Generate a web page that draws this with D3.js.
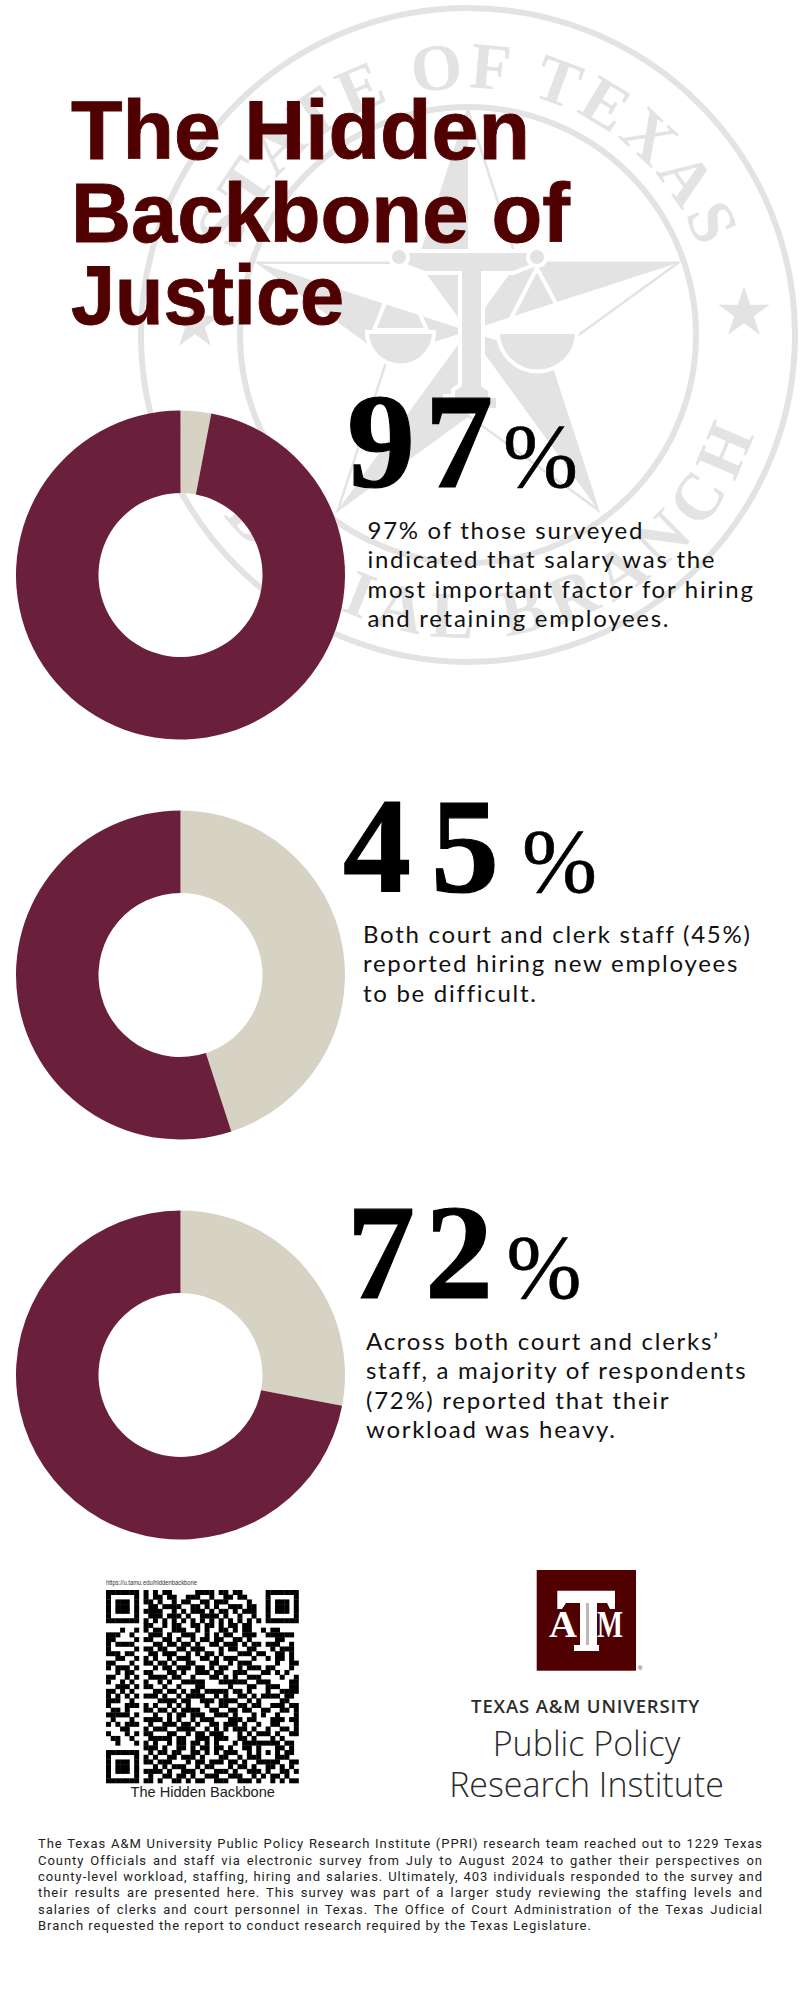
<!DOCTYPE html>
<html>
<head>
<meta charset="utf-8">
<script src="https://cdn.jsdelivr.net/npm/d3@7"></script>
<style>
  html, body { margin: 0; padding: 0; background: #fff; }
  svg { display: block; }
</style>
</head>
<body>
<div id="chart"></div>
<script>
////////// Data
var titleLines = ["The Hidden", "Backbone of", "Justice"];
var percentLabels = ["97", "45", "72"];
var donutMaroon = [97, 55, 72];
var donutBeige = [3, 45, 28];
var statTexts = [
  ["97% of those surveyed", "indicated that salary was the", "most important factor for hiring", "and retaining employees."],
  ["Both court and clerk staff (45%)", "reported hiring new employees", "to be difficult."],
  ["Across both court and clerks’", "staff, a majority of respondents", "(72%) reported that their", "workload was heavy."]
];
var footerLines = [
  "The Texas A&M University Public Policy Research Institute (PPRI) research team reached out to 1229 Texas",
  "County Officials and staff via electronic survey from July to August 2024 to gather their perspectives on",
  "county-level workload, staffing, hiring and salaries. Ultimately, 403 individuals responded to the survey and",
  "their results are presented here. This survey was part of a larger study reviewing the staffing levels and",
  "salaries of clerks and court personnel in Texas. The Office of Court Administration of the Texas Judicial",
  "Branch requested the report to conduct research required by the Texas Legislature."
];
var qrRows = [
  "11111110101011000001111011011000001111111",
  "10000010101101100111001001101100001000001",
  "10111010110100101100110111000010001011101",
  "10111010011011110011010100111011001011101",
  "10111010111100101011101011010111001011101",
  "10000010011101110100111101001001001000001",
  "11111110101010101010101010101010101111111",
  "00000000110010110011011010110110000000000",
  "00010010101100111001010011010110010110000",
  "11100100011101001110010101100111001111110",
  "11000010110011010010110110011010000011000",
  "10111100001101101101001101110101101110010",
  "10000010110110011011100010110011000101110",
  "11101100011011100101011010001110110011010",
  "00110010101001011100110101110001001011010",
  "11000100110110100110001100101110000010011",
  "10111010001011011101101011001011101100010",
  "00101100110001101001110110011100011010100",
  "11001010011110110010001101010011100001001",
  "10010100100101001111100011111100111000011",
  "00111010110010010001100000100011001110011",
  "11010100001101101011011111011010001001111",
  "10101010111010010111100101001101011110110",
  "11100100000111101100111011110010100001100",
  "10001110101001010100010011001101100111011",
  "01101000110110101111001100110110011001101",
  "11111010001001011011100111010001010010001",
  "01000100111101010010111000111011000111011",
  "10101110010011101101001101110100100110001",
  "00011000101110011110010101011101001001101",
  "10001010110001100101101110001010111010011",
  "01100100011111011001110111001101000101000",
  "00100010101001011011010100010111111110110",
  "00000000111010011010110110100110100011010",
  "11111110010110110011010101110010101010110",
  "10000010101001101110100011001011100011100",
  "10111010110111000101101110110100111110011",
  "10111010001010111001011000101101001101010",
  "10111010111101001110100111010011101001101",
  "10000010010011011010011100111001010110100",
  "11111110110100110101100111001110100101011"
];

////////// Layout
var width = 800, height = 2000;
var maroon = "#6a1f3a", beige = "#d6d3c4", titleColor = "#500000", sealGray = "#e3e3e3";
var donutCx = 180.5, donutCy = [575, 975, 1375], donutR = 164.5, donutHole = 82;
var numX = [347, 343, 347], numBase = [487, 892, 1298], numSpacing = [10, 20, 10];
var pctX = [503, 522, 506.5];
var textX = [367.5, 363, 366], textBase = [539, 943, 1350];
var titleBase = [158.5, 242, 323.5], titleWidth = [459, 499, 273];

var svg = d3.select("#chart").append("svg")
  .attr("width", width)
  .attr("height", height)
  .attr("viewBox", "0 0 " + width + " " + height);

svg.append("rect").attr("width", width).attr("height", height).attr("fill", "#fff");

////////// Seal in the background
function starPoints(cx, cy, R) {
  var r = R * 0.382, pts = [];
  for (var i = 0; i < 10; i++) {
    var a = -Math.PI / 2 + i * Math.PI / 5, d = i % 2 ? r : R;
    pts.push([cx + d * Math.cos(a), cy + d * Math.sin(a)]);
  }
  return pts;
}

function drawSeal() {
  var cx = 468, cy = 335;
  var g = svg.append("g").attr("class", "seal");
  g.append("circle").attr("cx", cx).attr("cy", cy).attr("r", 327)
    .attr("fill", "none").attr("stroke", sealGray).attr("stroke-width", 6);
  g.append("circle").attr("cx", cx).attr("cy", cy).attr("r", 228)
    .attr("fill", "none").attr("stroke", sealGray).attr("stroke-width", 6);

  // text on the ring
  var top = d3.path();
  top.arc(cx, cy, 247, -Math.PI * 0.95, -Math.PI * 0.05, false);
  var bottom = d3.path();
  bottom.arc(cx, cy, 303, Math.PI * 0.95, Math.PI * 0.05, true);
  g.append("path").attr("id", "sealTop").attr("d", top.toString()).attr("fill", "none");
  g.append("path").attr("id", "sealBottom").attr("d", bottom.toString()).attr("fill", "none");
  g.append("text").attr("font-family", "Liberation Serif").attr("font-weight", 700).attr("font-size", 66).attr("fill", sealGray)
    .attr("letter-spacing", 4.2).attr("text-anchor", "middle")
    .append("textPath").attr("href", "#sealTop").attr("startOffset", "50%").text("STATE OF TEXAS");
  g.append("text").attr("font-family", "Liberation Serif").attr("font-weight", 700).attr("font-size", 66).attr("fill", sealGray)
    .attr("letter-spacing", 10).attr("text-anchor", "middle")
    .append("textPath").attr("href", "#sealBottom").attr("startOffset", "50%").text("JUDICIAL BRANCH");

  // small stars left and right
  [[195, 324], [744, 313]].forEach(function(c) {
    g.append("polygon").attr("points", starPoints(c[0], c[1], 27).join(" ")).attr("fill", sealGray);
  });

  // big star: outline + one filled half on each point
  var pts = starPoints(cx, 331, 221);
  g.append("polygon").attr("points", pts.join(" "))
    .attr("fill", "none").attr("stroke", sealGray).attr("stroke-width", 2.5);
  for (var i = 0; i < 10; i += 2) {
    var prev = pts[(i + 9) % 10];
    g.append("polygon").attr("points", [[cx, 331], prev, pts[i]].join(" ")).attr("fill", sealGray);
  }

  // scales
  var sc = g.append("g").attr("fill", sealGray).attr("stroke", "#fff").attr("stroke-width", 4);
  sc.append("path").attr("d", "M460 273L425 273L399 263L399 251L539 251L539 263L513 273L483 273L483 385L490 390L490 396L498 396L498 410L445 410L445 396L453 396L453 390L460 385Z");
  [[399, 374, 427], [537, 505, 570]].forEach(function(p) {
    sc.append("path").attr("fill", "none").attr("d", "M" + p[0] + " 268L" + p[1] + " 330L" + p[2] + " 330Z");
    var R = (p[2] - p[1]) / 2 + 7, mid = (p[2] + p[1]) / 2;
    sc.append("path").attr("d", "M" + (mid - R) + " 332A" + R + " " + R + " 0 0 0 " + (mid + R) + " 332Z");
    sc.append("circle").attr("cx", p[0]).attr("cy", 257).attr("r", 9);
  });
}
drawSeal();

////////// Title
svg.append("g").selectAll("text").data(titleLines).enter().append("text")
  .attr("x", 71)
  .attr("y", function(d, i) { return titleBase[i]; })
  .attr("font-family", "Liberation Sans")
  .attr("font-weight", 700)
  .attr("font-size", 84)
  .attr("fill", titleColor)
  .attr("stroke", titleColor)
  .attr("stroke-width", 0.9)
  .attr("textLength", function(d, i) { return titleWidth[i]; })
  .attr("lengthAdjust", "spacingAndGlyphs")
  .text(function(d) { return d; });

////////// Donuts
var pie = d3.pie().sort(null).value(function(d) { return d; });
var arc = d3.arc().innerRadius(donutHole).outerRadius(donutR);
var sliceColor = d3.scaleOrdinal().domain([0, 1]).range([beige, maroon]);

donutCy.forEach(function(cy, k) {
  var g = svg.append("g").attr("class", "donut").attr("transform", "translate(" + donutCx + "," + cy + ")");
  g.selectAll("path").data(pie([donutBeige[k], donutMaroon[k]])).enter().append("path")
    .attr("d", arc)
    .attr("fill", function(d, i) { return sliceColor(i); });

  // big number
  svg.append("text")
    .attr("x", numX[k]).attr("y", numBase[k])
    .attr("font-family", "Liberation Serif").attr("font-weight", 700).attr("font-size", 136)
    .attr("letter-spacing", numSpacing[k])
    .attr("fill", "#000").attr("stroke", "#000").attr("stroke-width", 1.2)
    .text(percentLabels[k]);
  svg.append("text")
    .attr("x", pctX[k]).attr("y", numBase[k])
    .attr("font-family", "Liberation Serif").attr("font-size", 90)
    .attr("fill", "#000").attr("stroke", "#000").attr("stroke-width", 0.6)
    .text("%");

  // description
  svg.append("g").selectAll("text").data(statTexts[k]).enter().append("text")
    .attr("x", textX[k])
    .attr("y", function(d, i) { return textBase[k] + i * 29.3; })
    .attr("font-family", "Lato").attr("font-size", 24).attr("letter-spacing", 1.72).attr("fill", "#111")
    .text(function(d) { return d; });
});

////////// QR code
var qrN = qrRows.length;
var qrX = d3.scaleBand().domain(d3.range(qrN)).range([106, 298.5]);
var qrY = d3.scaleBand().domain(d3.range(qrN)).range([1590, 1783]);
var qr = svg.append("g").attr("class", "qr");
qrRows.forEach(function(row, r) {
  row.split("").forEach(function(v, c) {
    if (v === "1") {
      qr.append("rect").attr("x", qrX(c)).attr("y", qrY(r))
        .attr("width", qrX.bandwidth() + 0.3).attr("height", qrY.bandwidth() + 0.3).attr("fill", "#000");
    }
  });
});
svg.append("text").attr("x", 106).attr("y", 1585).attr("font-family", "Liberation Sans").attr("font-size", 6.8).attr("fill", "#333")
  .attr("textLength", 91).attr("lengthAdjust", "spacingAndGlyphs")
  .text("https://u.tamu.edu/hiddenbackbone");
svg.append("text").attr("x", 130.5).attr("y", 1797).attr("font-family", "Liberation Sans").attr("font-size", 14.6).attr("fill", "#222")
  .text("The Hidden Backbone");

////////// Logo
var logo = svg.append("g").attr("class", "logo");
logo.append("rect").attr("x", 536.7).attr("y", 1570).attr("width", 99.3).attr("height", 100.7).attr("fill", titleColor);
logo.append("path").attr("fill", "#fff").attr("d", "M557.3 1590.7L615 1590.7L615 1609L610 1609L607 1603L597 1603L597 1645L599 1645L599 1651L574 1651L574 1645L580 1645L580 1603L566 1603L562 1609L557.3 1609Z");
logo.append("path").attr("fill", "#b9b9b9").attr("d", "M586 1603L589 1603L589 1645L586 1645Z");
logo.append("text").attr("x", 549).attr("y", 1636.7).attr("font-family", "Liberation Serif").attr("font-weight", 700)
  .attr("font-size", 38).attr("fill", "#fff").attr("textLength", 28).attr("lengthAdjust", "spacingAndGlyphs").text("A");
logo.append("text").attr("x", 597).attr("y", 1636.7).attr("font-family", "Liberation Serif").attr("font-weight", 700)
  .attr("font-size", 38).attr("fill", "#fff").attr("textLength", 26).attr("lengthAdjust", "spacingAndGlyphs").text("M");
logo.append("text").attr("x", 638).attr("y", 1670).attr("font-family", "Liberation Sans").attr("font-size", 6).attr("fill", titleColor).text("®");

var logoText = svg.append("g").attr("text-anchor", "middle").attr("font-family", "Open Sans").attr("fill", "#2b2b2b");
logoText.append("text").attr("x", 585.6).attr("y", 1713).attr("font-size", 18.5).attr("font-weight", 600).attr("letter-spacing", 0.85).text("TEXAS A&M UNIVERSITY");
logoText.append("text").attr("x", 586.5).attr("y", 1755.5).attr("font-size", 34).attr("font-weight", 300).text("Public Policy");
logoText.append("text").attr("x", 586.5).attr("y", 1797).attr("font-size", 34).attr("font-weight", 300).text("Research Institute");

////////// Footer, justified by hand
var footerBase = [1848, 1864.5, 1881, 1897, 1913.5, 1930];
footerLines.forEach(function(line, i) {
  var t = svg.append("text")
    .attr("x", 38).attr("y", footerBase[i])
    .attr("font-family", "Roboto").attr("font-size", 13).attr("letter-spacing", 0.95).attr("fill", "#222")
    .text(line);
  if (i < footerLines.length - 1) {
    var spaces = line.split(" ").length - 1;
    var extra = (725 - t.node().getComputedTextLength()) / spaces;
    t.attr("word-spacing", extra);
  }
});
</script>
</body>
</html>
